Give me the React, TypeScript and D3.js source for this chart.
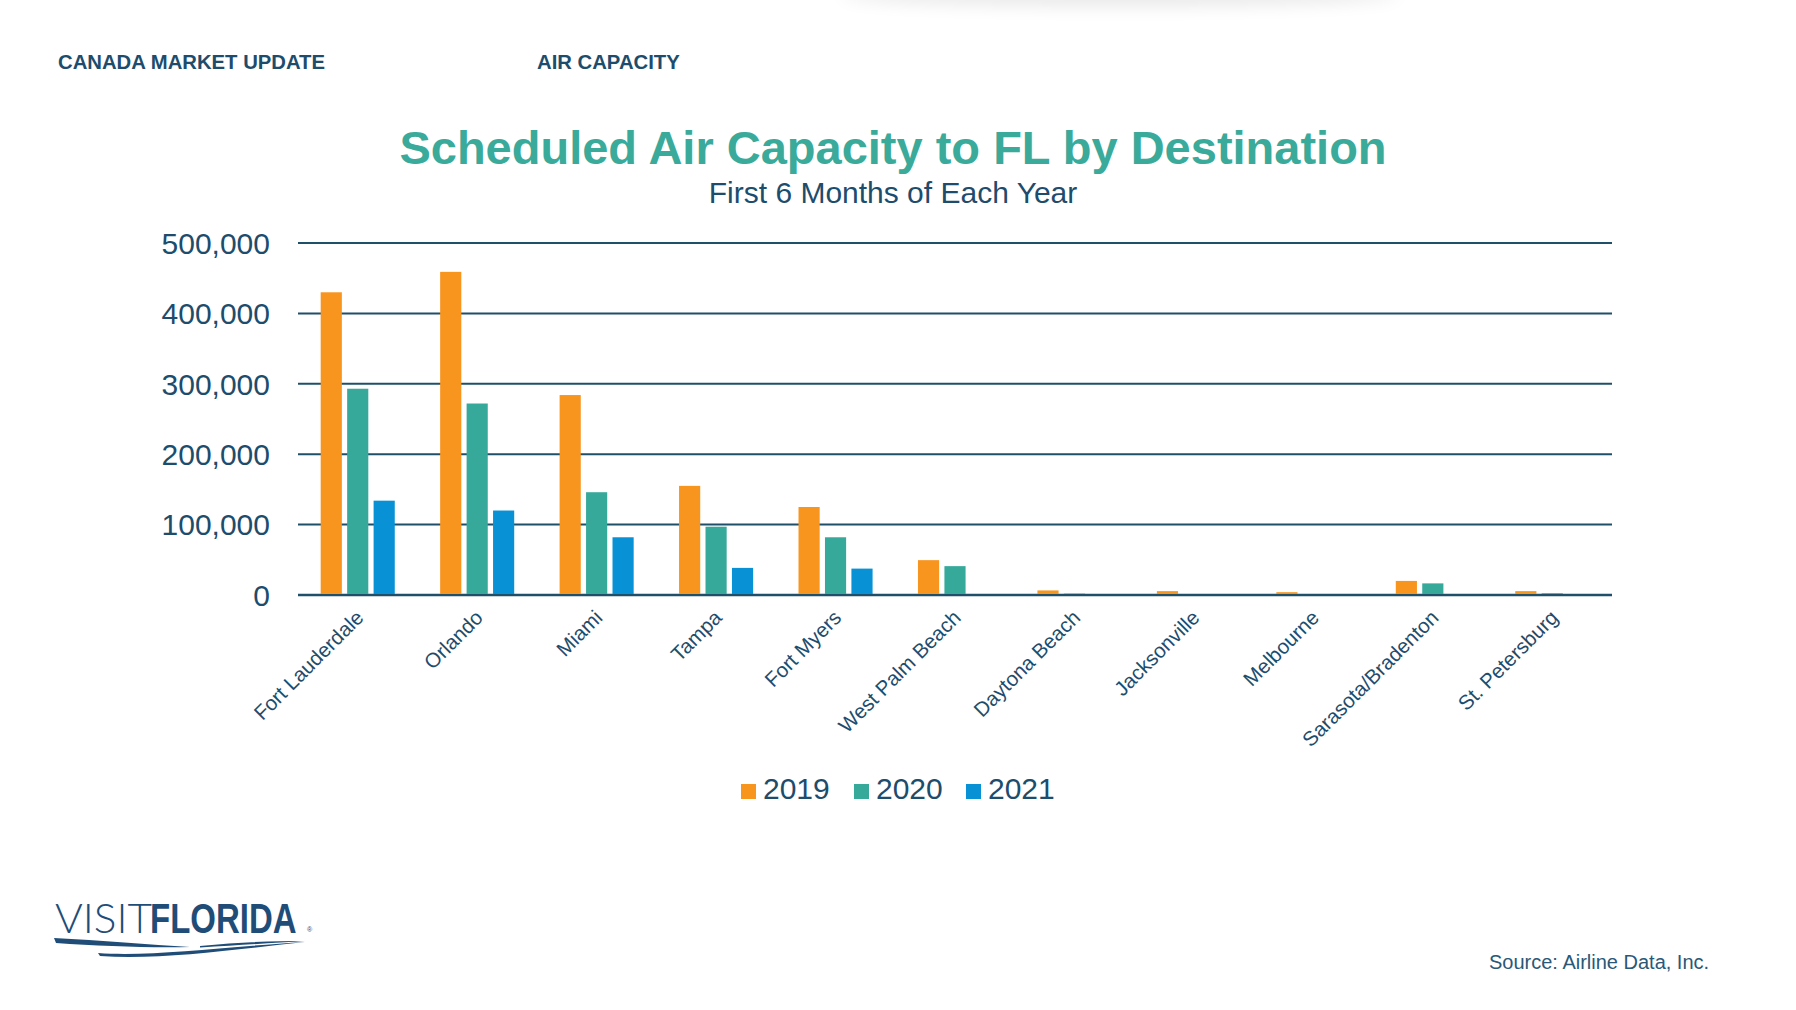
import React from 'react';
import * as d3 from 'd3';

const destinations = [
  'Fort Lauderdale', 'Orlando', 'Miami', 'Tampa', 'Fort Myers', 'West Palm Beach',
  'Daytona Beach', 'Jacksonville', 'Melbourne', 'Sarasota/Bradenton', 'St. Petersburg',
];
const years = ['2019', '2020', '2021'];
const seats2019 = [430000, 459000, 284000, 155000, 125000, 49500, 6500, 5500, 4000, 20000, 5500];
const seats2020 = [293000, 272000, 146000, 97000, 82000, 41000, 2000, 0, 0, 16500, 2500];
const seats2021 = [134000, 120000, 82000, 38500, 37500, 0, 0, 0, 0, 0, 0];
const yTicks = [0, 100000, 200000, 300000, 400000, 500000];

const seriesValues = [seats2019, seats2020, seats2021];
const seriesColors = ['#F8951F', '#37A99B', '#0892D5'];

const W = 1796;
const H = 1010;
const navy = '#1d4c6c';
const font = 'Liberation Sans, Arial, sans-serif';

const App: React.FC = () => {
  const x = d3.scaleBand<string>()
    .domain(destinations)
    .range([298, 1612])
    .paddingInner(0.38)
    .paddingOuter(0.19);

  const xInner = d3.scaleBand<string>()
    .domain(years)
    .range([0, x.bandwidth()])
    .paddingInner(0.2);

  const y = d3.scaleLinear()
    .domain([0, 500000])
    .range([595, 243]);

  const fmt = d3.format(',');

  return (
    <svg width={W} height={H} style={{ position: 'absolute', left: 0, top: 0, background: '#fff' }}>
      <defs>
        <filter id="soft" x="-50%" y="-200%" width="200%" height="500%">
          <feGaussianBlur stdDeviation="9" />
        </filter>
      </defs>

      {/* faint shadow at top */}
      <ellipse cx={1120} cy={-6} rx={280} ry={12} fill="#000" opacity={0.09} filter="url(#soft)" />

      {/* header */}
      <text x={58} y={69} fontFamily={font} fontWeight="bold" fontSize={20.3} fill={navy}>
        CANADA MARKET UPDATE
      </text>
      <text x={537} y={69} fontFamily={font} fontWeight="bold" fontSize={20.3} fill={navy}>
        AIR CAPACITY
      </text>

      {/* titles */}
      <text x={893} y={164} textAnchor="middle" fontFamily={font} fontWeight="bold" fontSize={47} fill="#3AAA9A">
        Scheduled Air Capacity to FL by Destination
      </text>
      <text x={893} y={203} textAnchor="middle" fontFamily={font} fontSize={30} fill={navy}>
        First 6 Months of Each Year
      </text>

      {/* gridlines + y labels */}
      <g>
        {yTicks.map(t => (
          <g key={t}>
            <line x1={298} x2={1612} y1={y(t)} y2={y(t)} stroke="#1f4f69" strokeWidth={t === 0 ? 2.5 : 2} />
            <text x={270} y={y(t)} dy="0.36em" textAnchor="end" fontFamily={font} fontSize={30} fill={navy}>
              {fmt(t)}
            </text>
          </g>
        ))}
      </g>

      {/* bars */}
      <g>
        {destinations.map((d, i) => (
          <g key={d} transform={`translate(${x(d)},0)`}>
            {years.map((yr, s) => {
              const v = seriesValues[s][i];
              if (!v) return null;
              return (
                <rect
                  key={yr}
                  x={xInner(yr)}
                  y={y(v)}
                  width={xInner.bandwidth()}
                  height={y(0) - y(v) - 1}
                  fill={seriesColors[s]}
                />
              );
            })}
          </g>
        ))}
      </g>

      {/* x labels */}
      <g>
        {destinations.map(d => {
          const cx = (x(d) ?? 0) + x.bandwidth() / 2;
          return (
            <text
              key={d}
              transform={`translate(${cx + 7},619) rotate(-45)`}
              textAnchor="end"
              fontFamily={font}
              fontSize={20.5}
              fill={navy}
            >
              {d}
            </text>
          );
        })}
      </g>

      {/* legend */}
      <g>
        {years.map((yr, s) => {
          const lx = [741, 854, 966][s];
          return (
            <g key={yr}>
              <rect x={lx} y={784} width={15} height={15} fill={seriesColors[s]} />
              <text x={lx + 22} y={799} fontFamily={font} fontSize={30} fill={navy}>{yr}</text>
            </g>
          );
        })}
      </g>

      {/* logo */}
      <g fill="#1f4d78">
        <text transform="translate(55,933) scale(1.01,1)" fontFamily="Lato, 'Open Sans', sans-serif" fontWeight={300} fontSize={42}>VISIT</text>
        <text transform="translate(150,933) scale(0.785,1)" fontFamily={font} fontWeight="bold" fontSize={42}>FLORIDA</text>
        <text x={307} y={932} fontFamily={font} fontSize={7}>®</text>
        <path d="M54,938 C100,940 150,945 190,947 C150,948 100,946 56,943 Z" />
        <path d="M98,953 C150,957 220,947 305,942 C230,950 160,960 100,956 Z" />
        <path d="M200,946 C240,942 275,941 305,941 C275,943 240,945 200,947.5 Z" />
      </g>

      {/* source */}
      <text x={1489} y={969} fontFamily={font} fontSize={20} fill="#2a5877">
        Source: Airline Data, Inc.
      </text>
    </svg>
  );
};

export default App;
